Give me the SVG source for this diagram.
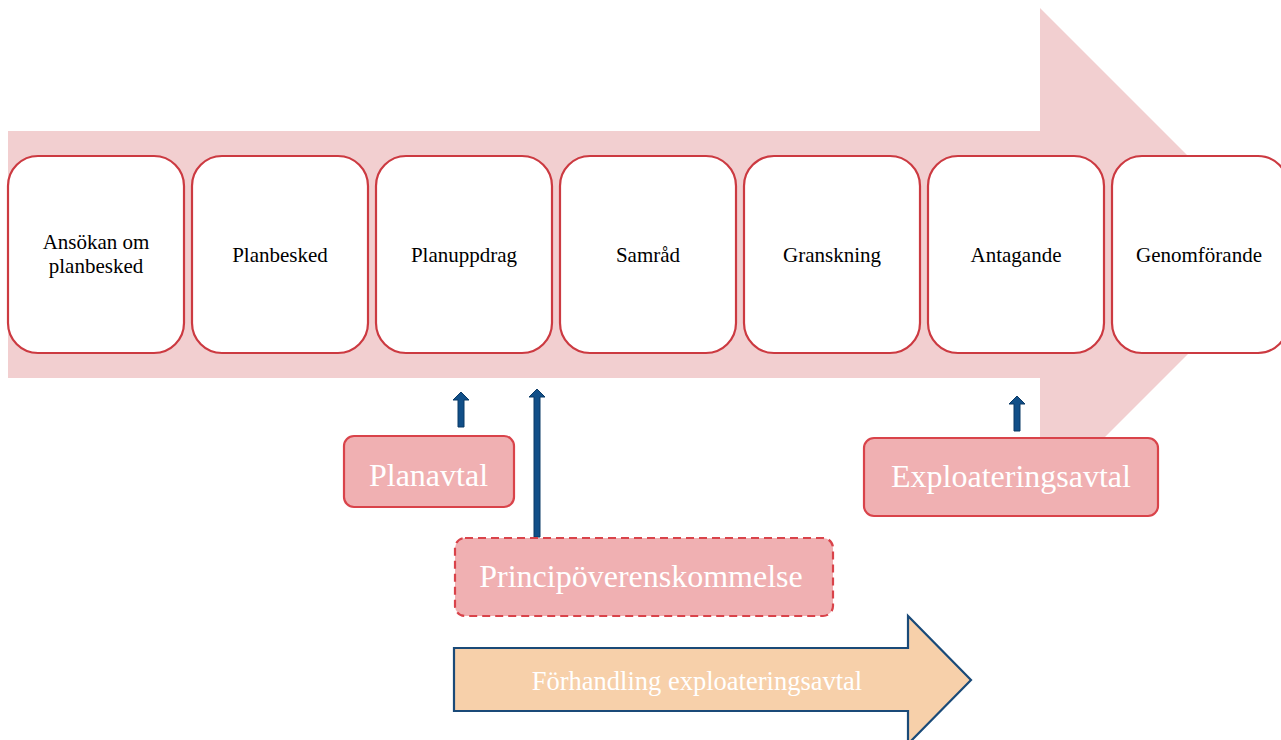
<svg xmlns="http://www.w3.org/2000/svg" width="1281" height="740" viewBox="0 0 1281 740">
<style>
.step{fill:#ffffff;stroke:#cc3a41;stroke-width:2.2}
.steptxt{font-family:"Liberation Serif","Times New Roman",serif;font-size:21px;fill:#000000;text-anchor:middle}
.lbl{fill:#f0b0b2;stroke:#d9434a;stroke-width:2.2}
.lbltxt{font-family:"Liberation Serif","Times New Roman",serif;font-size:32px;fill:#ffffff;text-anchor:middle}
.up{fill:#114f88;stroke:#0b3a66;stroke-width:1}
</style>
<rect width="1281" height="740" fill="#ffffff"/>
<g id="backbone">
<polygon points="8,131 1040,131 1040,8 1287,255 1040,502 1040,378 8,378" fill="#f2cfd0"/>
</g>
<g id="n1"><rect class="step" x="8" y="156" width="176" height="197" rx="30"/><text class="steptxt" x="96" y="249">Ansökan om</text><text class="steptxt" x="96" y="273">planbesked</text></g>
<g id="n2"><rect class="step" x="192" y="156" width="176" height="197" rx="30"/><text class="steptxt" x="280" y="262">Planbesked</text></g>
<g id="n3"><rect class="step" x="376" y="156" width="176" height="197" rx="30"/><text class="steptxt" x="464" y="262">Planuppdrag</text></g>
<g id="n4"><rect class="step" x="560" y="156" width="176" height="197" rx="30"/><text class="steptxt" x="648" y="262">Samråd</text></g>
<g id="n5"><rect class="step" x="744" y="156" width="176" height="197" rx="30"/><text class="steptxt" x="832" y="262">Granskning</text></g>
<g id="n6"><rect class="step" x="928" y="156" width="176" height="197" rx="30"/><text class="steptxt" x="1016" y="262">Antagande</text></g>
<g id="n7"><rect class="step" x="1112" y="156" width="176" height="197" rx="30"/><text class="steptxt" x="1199" y="262">Genomförande</text></g>
<g id="connectors">
<polygon class="up" points="458,427 458,400 453,400 461,392 469,400 464,400 464,427"/>
<polygon class="up" points="534,537 534,397 529,397 537,389 545,397 540,397 540,537"/>
<polygon class="up" points="1014,431 1014,404 1009,404 1017,396 1025,404 1020,404 1020,431"/>
</g>
<g id="planavtal"><rect class="lbl" x="344" y="436" width="170" height="71" rx="10"/><text class="lbltxt" x="428.5" y="486">Planavtal</text></g>
<g id="princip"><rect class="lbl" x="455" y="538" width="378" height="78" rx="10" stroke-dasharray="8,5"/><text class="lbltxt" x="641" y="587">Principöverenskommelse</text></g>
<g id="exploatering"><rect class="lbl" x="864" y="438" width="294" height="78" rx="10"/><text class="lbltxt" x="1011" y="487">Exploateringsavtal</text></g>
<g id="forhandling">
<polygon points="454,648 908,648 908,616 971,680 908,744 908,711 454,711" fill="#f7d0aa" stroke="#1a4a78" stroke-width="2.2"/>
<text x="697" y="690" font-family="Liberation Serif, serif" font-size="26.5" fill="#ffffff" text-anchor="middle">Förhandling exploateringsavtal</text>
</g>
</svg>
